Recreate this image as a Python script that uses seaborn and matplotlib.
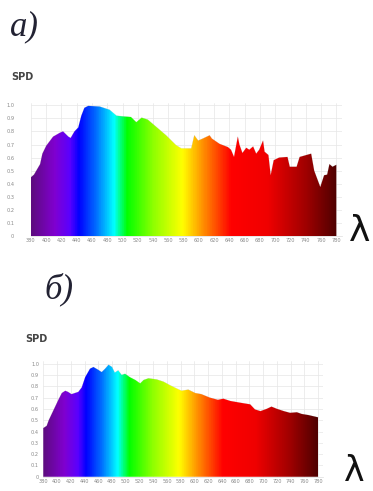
import numpy as np
import pandas as pd
import matplotlib
matplotlib.use("Agg")
import matplotlib.pyplot as plt
from matplotlib.colors import LinearSegmentedColormap
import seaborn as sns

# ---- Daten ----
wl_a = [380, 384, 392, 395, 400, 409, 418, 422, 429, 432, 437, 442, 446, 450, 455, 470,
        483, 492, 500, 511, 518, 525, 533, 544, 557, 570, 577, 590, 594, 599, 605, 614,
        617, 627, 638, 642, 646, 651, 653, 657, 662, 666, 671, 675, 679, 684, 686, 691,
        694, 698, 705, 716, 719, 728, 732, 747, 751, 759, 764, 768, 771, 775, 780]
spd_a = [0.45, 0.47, 0.55, 0.63, 0.69, 0.76, 0.79, 0.80, 0.76, 0.75, 0.80, 0.83, 0.92, 0.98, 0.995, 0.99,
         0.965, 0.92, 0.915, 0.91, 0.87, 0.905, 0.89, 0.835, 0.77, 0.695, 0.67, 0.67, 0.77, 0.73, 0.745, 0.77,
         0.745, 0.705, 0.68, 0.66, 0.605, 0.76, 0.70, 0.635, 0.675, 0.66, 0.685, 0.63, 0.66, 0.73, 0.645, 0.62,
         0.465, 0.58, 0.60, 0.605, 0.53, 0.53, 0.605, 0.63, 0.50, 0.375, 0.465, 0.47, 0.55, 0.53, 0.545]

wl_b = [380, 385, 388, 395, 402, 407, 412, 416, 421, 431, 436, 441, 448, 453, 460, 465,
        470, 475, 480, 484, 489, 494, 499, 506, 514, 521, 526, 533, 545, 555, 564, 574,
        581, 591, 601, 610, 622, 634, 642, 652, 666, 681, 688, 696, 705, 712, 720, 730,
        739, 749, 756, 766, 773, 780]
spd_b = [0.43, 0.45, 0.50, 0.59, 0.68, 0.74, 0.76, 0.75, 0.73, 0.75, 0.79, 0.88, 0.955, 0.97, 0.945, 0.925,
         0.955, 0.99, 0.97, 0.92, 0.94, 0.90, 0.91, 0.88, 0.855, 0.825, 0.855, 0.87, 0.86, 0.84, 0.81, 0.78,
         0.76, 0.77, 0.74, 0.73, 0.70, 0.68, 0.69, 0.67, 0.655, 0.64, 0.595, 0.58, 0.60, 0.62, 0.60, 0.58,
         0.565, 0.57, 0.555, 0.545, 0.535, 0.525]

xticks = list(range(380, 781, 20))
yticks = [round(0.1 * i, 1) for i in range(11)]

df_a = pd.DataFrame({"wl": wl_a, "spd": spd_a})
df_b = pd.DataFrame({"wl": wl_b, "spd": spd_b})

# Spektralfarben entlang der Wellenlaenge
stops = [(380, "#5e0c80"), (410, "#8000d0"), (430, "#5a00ff"), (442, "#0000ff"),
         (465, "#0070ff"), (488, "#00ffff"), (505, "#00ff00"), (540, "#90ff00"),
         (578, "#ffff00"), (605, "#ff9000"), (642, "#ff0000"), (690, "#f00000"),
         (740, "#a00000"), (780, "#500000")]
spec = LinearSegmentedColormap.from_list(
    "spec", [((w - 380) / 400, c) for w, c in stops])

sns.set_style("whitegrid", {"grid.color": "#e6e6e6", "axes.edgecolor": "#dddddd"})

fig = plt.figure(figsize=(3.73, 4.91), dpi=100)


def spd_panel(ax, df, ypad):
    sns.lineplot(data=df, x="wl", y="spd", ax=ax, color="#888888", lw=0.3, alpha=0.4)
    poly = ax.fill_between(df["wl"], 0, df["spd"], color="none", lw=0)
    grad = np.linspace(0, 1, 400).reshape(1, -1)
    im = ax.imshow(grad, cmap=spec, aspect="auto", extent=(380, 780, 0, 1),
                   origin="lower", zorder=2)
    im.set_clip_path(poly.get_paths()[0], transform=ax.transData)
    ax.set_xlim(380, 787)
    ax.set_ylim(0, 1.02)
    ax.set_xticks(xticks)
    ax.set_yticks(yticks)
    ax.set_yticklabels(["0"] + [f"{v:.1f}" for v in yticks[1:]])
    ax.tick_params(axis="x", labelsize=3.6, colors="#888888", pad=1.5, length=0)
    ax.tick_params(axis="y", labelsize=3.6, colors="#888888", pad=ypad, length=0)
    ax.grid(True, lw=0.5)
    for s in ["top", "right", "left"]:
        ax.spines[s].set_visible(False)
    ax.spines["bottom"].set_linewidth(0.5)
    ax.set_xlabel("")
    ax.set_ylabel("")


ax1 = fig.add_axes([0.083, 0.519, 0.833, 0.272])
spd_panel(ax1, df_a, 12)
ax2 = fig.add_axes([0.116, 0.029, 0.75, 0.235])
spd_panel(ax2, df_b, 3)

fig.text(0.027, 0.945, "а)", fontsize=25, style="italic", family="Liberation Serif",
         color="#222233", va="center")
fig.text(0.12, 0.41, "б)", fontsize=25, style="italic", family="Liberation Serif",
         color="#222233", va="center")
fig.text(0.03, 0.843, "SPD", fontsize=7, weight="bold", color="#444444",
         family="DejaVu Sans Condensed", va="center")
fig.text(0.067, 0.31, "SPD", fontsize=7, weight="bold", color="#444444",
         family="DejaVu Sans Condensed", va="center")
fig.text(0.965, 0.53, "λ", fontsize=26, color="#111111", family="DejaVu Sans",
         ha="center", va="center")
fig.text(0.95, 0.04, "λ", fontsize=25, color="#111111", family="DejaVu Sans",
         ha="center", va="center")

fig.savefig("out.png", dpi=100)
